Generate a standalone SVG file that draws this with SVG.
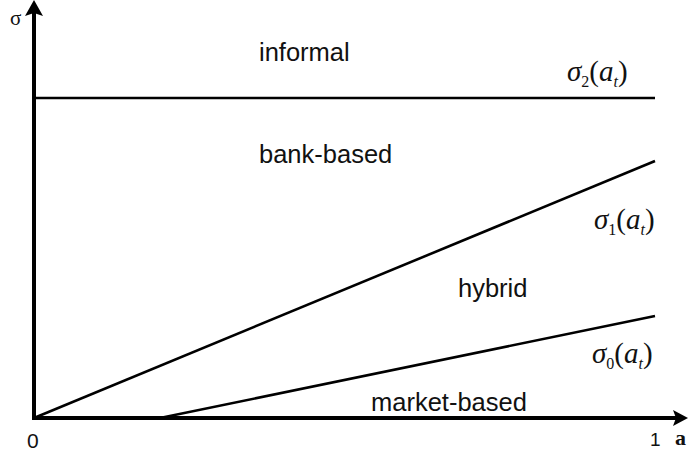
<svg xmlns="http://www.w3.org/2000/svg" width="688" height="458" viewBox="0 0 688 458">
  <style>
    .region { font-family: "Liberation Sans", Arial, sans-serif; font-size: 25.5px; fill: #111; }
    .tick { font-family: "Liberation Sans", Arial, sans-serif; fill: #111; }
    .math { font-family: "Liberation Serif", "Times New Roman", serif; font-size: 29px; fill: #111; }
    .sub { font-size: 16px; }
    .axis { stroke: #000; stroke-width: 4; fill: none; }
    .bound { stroke: #000; stroke-width: 2.6; fill: none; stroke-linecap: butt; }
  </style>

  <!-- axes -->
  <g id="axes">
    <line class="axis" x1="34" y1="418" x2="34" y2="12"/>
    <polygon points="34,0 43,16 34,13 25,16" fill="#000"/>
    <line class="axis" x1="32" y1="418" x2="676" y2="418"/>
    <polygon points="688,418 673,426 676,418 673,410" fill="#000"/>
    <text x="10" y="25" font-family="'Liberation Serif', 'Times New Roman', serif" font-size="21" fill="#111">σ</text>
    <text class="tick" x="27" y="448" font-size="21">0</text>
    <text class="tick" x="650" y="446" font-size="19">1</text>
    <text x="675" y="445" font-family="'Liberation Serif', 'Times New Roman', serif" font-size="22" font-weight="bold" fill="#111">a</text>
  </g>

  <!-- boundary curves -->
  <g id="connectors">
    <line id="sigma2" class="bound" x1="34" y1="98" x2="655" y2="98"/>
    <line id="sigma1" class="bound" x1="34" y1="418" x2="655" y2="161"/>
    <line id="sigma0" class="bound" x1="160" y1="418" x2="655" y2="316"/>
  </g>

  <!-- regime labels -->
  <g id="informal"><text class="region" x="259" y="61">informal</text></g>
  <g id="bank-based"><text class="region" x="259" y="163">bank-based</text></g>
  <g id="hybrid"><text class="region" x="458" y="297">hybrid</text></g>
  <g id="market-based"><text class="region" x="371" y="411">market-based</text></g>

  <!-- curve labels -->
  <g id="label-sigma2">
    <text class="math" x="567" y="81"><tspan font-style="italic">σ</tspan><tspan class="sub" dy="6">2</tspan><tspan dy="-6">(</tspan><tspan font-style="italic">a</tspan><tspan class="sub" font-style="italic" dy="6">t</tspan><tspan dy="-6">)</tspan></text>
  </g>
  <g id="label-sigma1">
    <text class="math" x="594" y="229"><tspan font-style="italic">σ</tspan><tspan class="sub" dy="6">1</tspan><tspan dy="-6">(</tspan><tspan font-style="italic">a</tspan><tspan class="sub" font-style="italic" dy="6">t</tspan><tspan dy="-6">)</tspan></text>
  </g>
  <g id="label-sigma0">
    <text class="math" x="592" y="363"><tspan font-style="italic">σ</tspan><tspan class="sub" dy="6">0</tspan><tspan dy="-6">(</tspan><tspan font-style="italic">a</tspan><tspan class="sub" font-style="italic" dy="6">t</tspan><tspan dy="-6">)</tspan></text>
  </g>
</svg>
